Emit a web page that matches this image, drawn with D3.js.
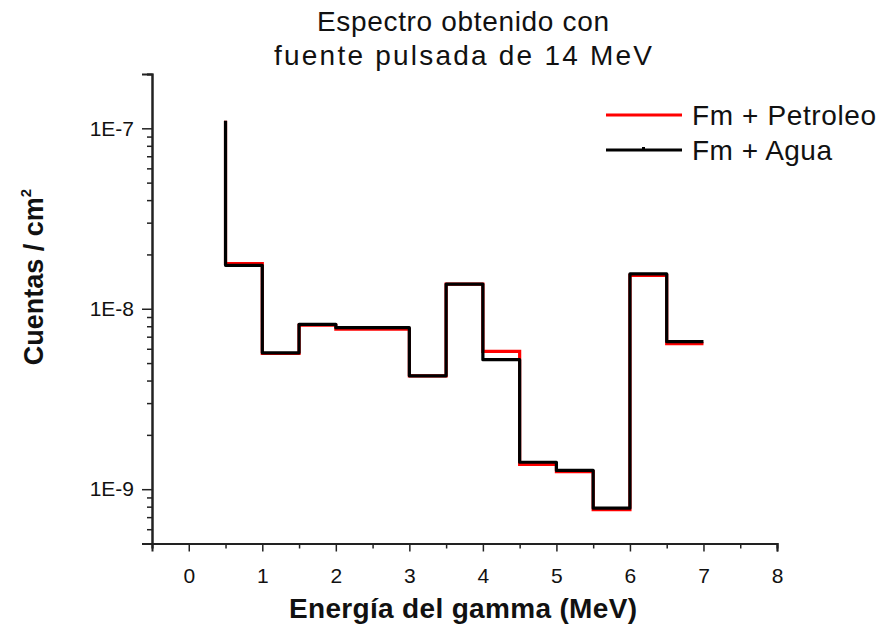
<!DOCTYPE html>
<html>
<head>
<meta charset="utf-8">
<script src="https://cdn.jsdelivr.net/npm/d3@7"></script>
<style>
  body { margin: 0; background: #fff; }
  svg { font-family: "Liberation Sans", Arial, sans-serif; }
</style>
</head>
<body>
<svg id="chart" width="880" height="625"></svg>
<script>
// energy bins (upper edge, MeV) and counts per cm2
var energy = [0.5, 1, 1.5, 2, 2.5, 3, 3.5, 4, 4.5, 5, 5.5, 6, 6.5, 7];
var petroleo = [1.1e-7, 1.78e-8, 5.65e-9, 8.1e-9, 7.7e-9, 7.7e-9, 4.25e-9, 1.37e-8, 5.8e-9, 1.37e-9, 1.25e-9, 7.7e-10, 1.53e-8, 6.4e-9];
var agua = [1.1e-7, 1.74e-8, 5.7e-9, 8.2e-9, 7.85e-9, 7.85e-9, 4.25e-9, 1.37e-8, 5.22e-9, 1.41e-9, 1.27e-9, 7.85e-10, 1.56e-8, 6.57e-9];
var xTicks = [0, 1, 2, 3, 4, 5, 6, 7, 8];
var yMajor = [1e-9, 1e-8, 1e-7];
var seriesNames = ['Fm + Petroleo', 'Fm + Agua'];
var titleLines = ['Espectro obtenido con', 'fuente pulsada de 14 MeV'];

var svg = d3.select('#chart');
var plotLeft = 152, plotRight = 777, plotTop = 74, plotBottom = 543.5;

var xScale = d3.scaleLinear().domain([-0.5, 8]).range([plotLeft, plotRight]);
var yScale = d3.scaleLog().domain([5e-10, 2e-7]).range([plotBottom, plotTop]);

// minor ticks on the log axis: 2..9 times each decade
var yMinor = [];
[1e-10, 1e-9, 1e-8, 1e-7].forEach(function (d) {
  for (var k = 2; k <= 9; k++) {
    var v = +(d * k).toPrecision(3);
    if (v >= 5e-10 && v <= 2e-7) yMinor.push(v);
  }
});
var xMinor = d3.range(-0.5, 8.01, 1);

var g = svg.append('g');

// y axis
var yAxis = g.append('g').attr('transform', 'translate(' + plotLeft + ',0)');
yAxis.call(d3.axisLeft(yScale).tickValues(yMinor).tickSize(5).tickFormat(''));
yAxis.append('g').call(d3.axisLeft(yScale).tickValues(yMajor).tickSize(10)
  .tickFormat(function (d) { return '1E' + Math.round(Math.log10(d)); }));

// x axis
var xAxis = g.append('g').attr('transform', 'translate(0,' + plotBottom + ')');
xAxis.call(d3.axisBottom(xScale).tickValues(xMinor).tickSize(5).tickFormat(''));
xAxis.append('g').call(d3.axisBottom(xScale).tickValues(xTicks).tickSize(8).tickPadding(17)
  .tickFormat(d3.format('d')));

svg.selectAll('.domain').attr('stroke', '#222').attr('stroke-width', 2);
svg.selectAll('.tick line').attr('stroke', '#222').attr('stroke-width', 1.5);
svg.selectAll('.tick text').attr('fill', '#111').style('font-size', '21px');
yAxis.selectAll('.tick text').attr('x', -18);

// step lines
var line = function (vals) {
  return d3.line()
    .x(function (d, i) { return xScale(energy[i]); })
    .y(function (d) { return yScale(d); })
    .curve(d3.curveStepBefore)(vals);
};
g.append('path').attr('d', line(petroleo))
  .style('fill', 'none').style('stroke', '#ff0000').style('stroke-width', 3.2);
g.append('path').attr('d', line(agua))
  .style('fill', 'none').style('stroke', '#000').style('stroke-width', 3.2)
  .style('stroke-linejoin', 'round');

// title
var titleW = [292, 378];
svg.append('text').attr('x', 463).attr('text-anchor', 'middle')
  .style('font-size', '28px').attr('fill', '#111')
  .selectAll('tspan').data(titleLines).enter().append('tspan')
  .attr('x', 463).attr('y', function (d, i) { return 31 + i * 34; })
  .attr('textLength', function (d, i) { return titleW[i]; })
  .attr('lengthAdjust', 'spacing')
  .text(function (d) { return d; });

// legend
var colors = ['#ff0000', '#000'];
var legendW = [184, 140];
var leg = svg.append('g').selectAll('g').data(seriesNames).enter().append('g')
  .attr('transform', function (d, i) { return 'translate(606,' + (115 + i * 35) + ')'; });
leg.append('line').attr('x1', 0).attr('x2', 76)
  .attr('stroke', function (d, i) { return colors[i]; }).attr('stroke-width', 3);
leg.append('text').attr('x', 86).attr('y', 10).style('font-size', '28px').attr('fill', '#111')
  .attr('textLength', function (d, i) { return legendW[i]; })
  .attr('lengthAdjust', 'spacing')
  .text(function (d) { return d; });
leg.filter(function (d, i) { return i == 1; }).append('rect')
  .attr('x', 36).attr('y', -3).attr('width', 3).attr('height', 3).attr('fill', '#000');

// axis labels
svg.append('text').attr('x', 463).attr('y', 618).attr('text-anchor', 'middle')
  .style('font-size', '28px').style('font-weight', 'bold').attr('fill', '#111')
  .attr('textLength', 348).attr('lengthAdjust', 'spacing')
  .text('Energía del gamma (MeV)');
var yl = svg.append('text').attr('transform', 'translate(43,277) rotate(-90)')
  .attr('text-anchor', 'middle')
  .style('font-size', '27px').style('font-weight', 'bold').attr('fill', '#111');
yl.append('tspan').text('Cuentas / cm');
yl.append('tspan').attr('dy', -12).style('font-size', '15px').text('2');
</script>
</body>
</html>
